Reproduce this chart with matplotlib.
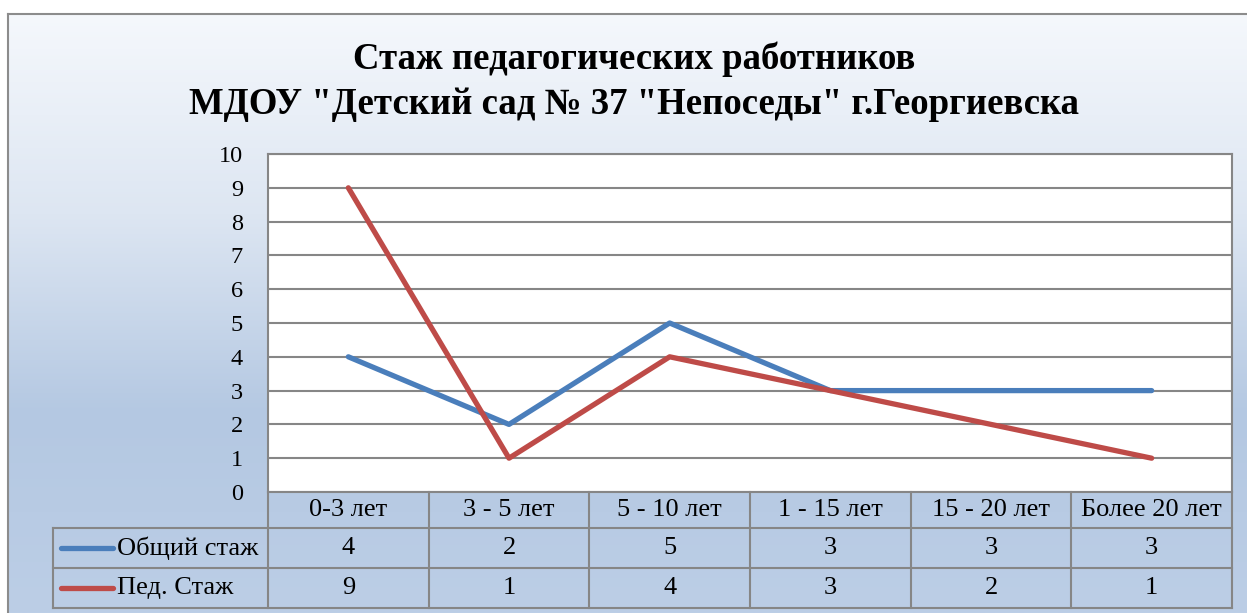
import numpy as np
import matplotlib.pyplot as plt
from matplotlib.colors import LinearSegmentedColormap
from matplotlib.lines import Line2D

plt.rcParams['font.family'] = ['Liberation Serif', 'DejaVu Serif']

categories = ["0-3 лет", "3 - 5 лет", "5 - 10 лет", "1 - 15 лет", "15 - 20 лет", "Более 20 лет"]
total = [4, 2, 5, 3, 3, 3]
ped = [9, 1, 4, 3, 2, 1]
series_names = ["Общий стаж", "Пед. Стаж"]
colors = ["#4a7ebb", "#be4b48"]
title = 'Стаж педагогических работников\nМДОУ "Детский сад № 37 "Непоседы" г.Георгиевска'

W, H = 1247, 613
fig = plt.figure(figsize=(W / 100, H / 100), dpi=100)

# background panel with gradient
bg = fig.add_axes([8 / W, 0, 1 - 8 / W, 1 - 14 / H])
grad = LinearSegmentedColormap.from_list("g", ["#f5f8fc", "#dde6f2", "#b4c8e2", "#bccee6"])
bg.imshow(np.linspace(0, 1, 256).reshape(-1, 1), aspect='auto', cmap=grad,
          extent=[0, 1, 0, 1], origin='upper')
bg.set_xticks([])
bg.set_yticks([])
for s in ['right', 'bottom']:
    bg.spines[s].set_visible(False)
for s in ['left', 'top']:
    bg.spines[s].set_color('#8c8c8c')
    bg.spines[s].set_linewidth(1.5)

fig.text(634 / W, 1 - 82 / H, title, ha='center', va='center', fontsize=26.5,
         fontweight='bold', linespacing=1.38)

# plot area
x0, x1, y0, y1 = 268, 1232, 154, 492
ax = fig.add_axes([x0 / W, 1 - y1 / H, (x1 - x0) / W, (y1 - y0) / H])
ax.set_facecolor('white')
x = np.arange(len(categories))
ax.plot(x, total, color=colors[0], lw=3.8, solid_capstyle='round', zorder=3)
ax.plot(x, ped, color=colors[1], lw=3.8, solid_capstyle='round', zorder=3)
ax.set_xlim(-0.5, len(categories) - 0.5)
ax.set_ylim(0, 10)
ax.set_yticks(range(0, 11))
ax.set_xticks([])
ax.yaxis.grid(True, color='#868686', lw=1.5)
ax.tick_params(axis='y', length=0, labelsize=17.5, pad=18)
for s in ax.spines.values():
    s.set_color('#868686')
    s.set_linewidth(1.5)

# data table under the plot
ph = y1 - y0
rows = [0, -36 / ph, -76 / ph, -116 / ph]
pw = x1 - x0
leg_x = (53 - x0) / pw
n = len(categories)
kw = dict(transform=ax.transAxes, clip_on=False, color='#868686', lw=1.5)
for r in rows[1:]:
    ax.add_line(Line2D([leg_x, 1], [r, r], **kw))
for i in range(n + 1):
    ax.add_line(Line2D([i / n, i / n], [rows[0], rows[3]], **kw))
ax.add_line(Line2D([leg_x, leg_x], [rows[1], rows[3]], **kw))

for i, c in enumerate(categories):
    ax.text((i + 0.5) / n, (rows[0] + rows[1]) / 2, c, transform=ax.transAxes,
            ha='center', va='center', fontsize=19)
for j, vals in enumerate([total, ped]):
    yc = (rows[j + 1] + rows[j + 2]) / 2
    for i, v in enumerate(vals):
        ax.text((i + 0.5) / n, yc, str(v), transform=ax.transAxes,
                ha='center', va='center', fontsize=19)
    ax.add_line(Line2D([(61 - x0) / pw, (113 - x0) / pw], [yc, yc],
                       transform=ax.transAxes, clip_on=False, color=colors[j],
                       lw=3.8, solid_capstyle='round'))
    ax.text((117 - x0) / pw, yc, series_names[j], transform=ax.transAxes,
            ha='left', va='center', fontsize=19)

fig.savefig("out.png", dpi=100)
